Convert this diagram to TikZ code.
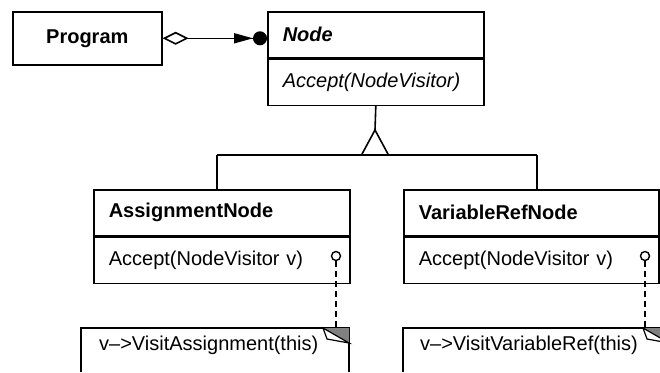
\documentclass[tikz,border=0pt]{standalone}
\usepackage{fontspec}
\setmainfont{Liberation Sans}
\usetikzlibrary{arrows.meta}

\begin{document}
\begin{tikzpicture}[
		x=1pt, y=-1pt,
		line width=1.6pt,
		every node/.style={font=\fontsize{20}{24}\selectfont},
		classpart/.style={draw, rectangle, anchor=north west, minimum height=46pt, inner xsep=15pt, inner ysep=0pt, align=left},
		hook/.style={circle, draw, line width=1.4pt, minimum size=9pt, inner sep=0pt}
	]
  \useasboundingbox (0,0) rectangle (660,372);
  % classes
  \node (prog) [draw, minimum width=149pt, minimum height=53pt, anchor=north west] at (12,11) {\bfseries Program};
  \node (nodename) [classpart, text width=186pt] at (267,11) {\bfseries\itshape Node};
  \node (nodemeth) [classpart, text width=186pt] at (nodename.south west) {\itshape Accept(NodeVisitor)};
  \node (asgname) [classpart, text width=226pt] at (93,189) {\bfseries AssignmentNode};
  \node (asgmeth) [classpart, text width=226pt] at (asgname.south west) {Accept(NodeVisitor v)};
  \node (varname) [classpart, text width=225pt] at (403,189) {\bfseries VariableRefNode};
  \node (varmeth) [classpart, text width=225pt] at (varname.south west) {Accept(NodeVisitor v)};
  \node (asghook) [hook] at (336,256) {};
  \node (varhook) [hook] at (645,256) {};
  % notes
  \node (asgnote) [anchor=west] at (95,345) {v–>VisitAssignment(this)};
  \node (varnote) [anchor=west] at (416,345) {v–>VisitVariableRef(this)};
  \coordinate (asgtop) at (336,328);
  \coordinate (vartop) at (645,328);
  \draw (81,372) -- (81,328) -- (349,328) -- (349,372);
  \fill[gray] (323,328) -- (349,328) -- (349,343) -- cycle;
  \draw[fill=white, line width=1.2pt] (323,328) -- (327,339) -- (349,343) -- cycle;
  \draw (403,372) -- (403,328) -- (669,328) -- (669,372);
  \fill[gray] (643,328) -- (669,328) -- (669,343) -- cycle;
  \draw[fill=white, line width=1.2pt] (643,328) -- (647,339) -- (669,343) -- cycle;
  \draw[dash pattern=on 6pt off 4pt] (asghook) -- (asgtop);
  \draw[dash pattern=on 6pt off 4pt] (varhook) -- (vartop);
  % aggregation
  \draw[{Diamond[open,length=26pt,width=13pt]}-{Triangle[length=19pt,width=10pt]Circle[length=14pt]}] (prog.east) -- (prog.east -| nodename.west);
  % inheritance
  \coordinate (apex) at (375,130);
  \coordinate (lsplit) at (217,155);
  \coordinate (rsplit) at (537,155);
  \draw (nodemeth.south) -- (apex);
  \draw[fill=white] (apex) -- ++(-13.5,25) -- ++(27,0) -- cycle;
  \draw (lsplit) -- (rsplit);
  \draw (lsplit) -- (lsplit |- asgname.north);
  \draw (rsplit) -- (rsplit |- varname.north);
\end{tikzpicture}
\end{document}
